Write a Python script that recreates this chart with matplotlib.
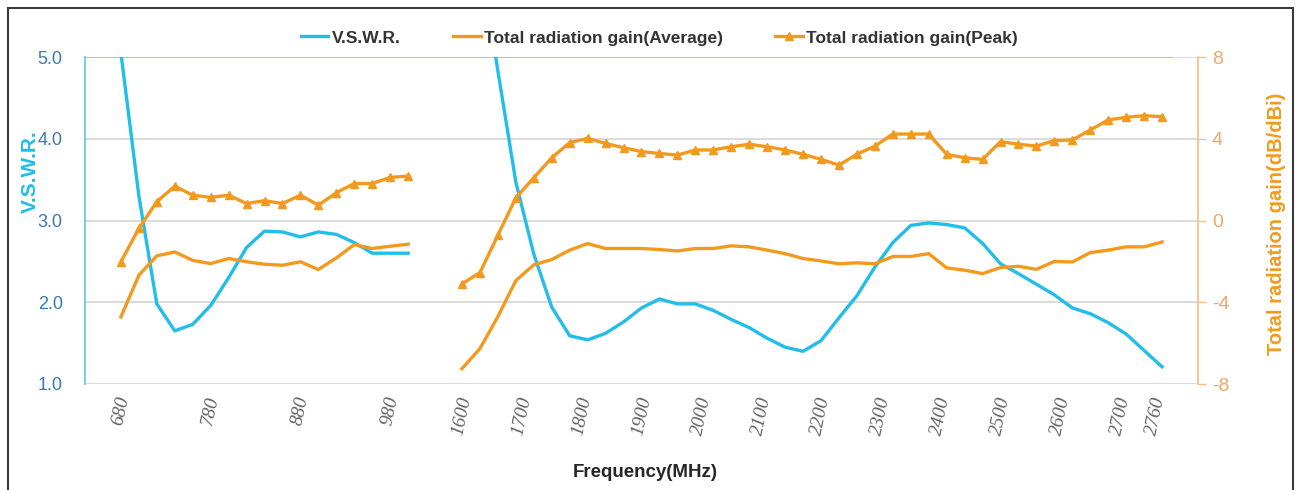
import numpy as np
import matplotlib.pyplot as plt
from matplotlib.patches import Rectangle
from matplotlib.lines import Line2D

plt.rcParams['axes.unicode_minus'] = False

# frequency categories (MHz): low band and high band
freq_lo = list(range(680, 1001, 20))
freq_hi = list(range(1600, 2771, 30))

vswr_lo = [5.05, 3.30, 1.98, 1.65, 1.73, 1.96, 2.30, 2.67, 2.87, 2.86, 2.80, 2.86, 2.83, 2.73, 2.60, 2.60, 2.60]
avg_lo = [-4.72, -2.68, -1.73, -1.54, -1.95, -2.11, -1.86, -2.02, -2.14, -2.19, -2.02, -2.40, -1.83, -1.18, -1.37, -1.26, -1.16]
peak_lo = [-2.02, -0.39, 0.92, 1.68, 1.24, 1.13, 1.24, 0.83, 0.97, 0.83, 1.24, 0.75, 1.36, 1.81, 1.81, 2.11, 2.17]

vswr_hi = [8.0, 6.2, 4.83, 3.47, 2.59, 1.94, 1.59, 1.54, 1.62, 1.76, 1.93, 2.04, 1.98, 1.98, 1.90, 1.79,
           1.69, 1.56, 1.45, 1.40, 1.53, 1.81, 2.08, 2.43, 2.73, 2.94, 2.97, 2.95, 2.91, 2.72, 2.47, 2.35,
           2.22, 2.09, 1.93, 1.86, 1.75, 1.61, 1.41, 1.21]
avg_hi = [-7.25, -6.27, -4.7, -2.94, -2.17, -1.91, -1.45, -1.13, -1.37, -1.37, -1.37, -1.42, -1.49, -1.37,
          -1.37, -1.24, -1.29, -1.45, -1.62, -1.86, -1.98, -2.12, -2.07, -2.12, -1.76, -1.76, -1.62, -2.32,
          -2.43, -2.6, -2.3, -2.24, -2.39, -2.0, -2.03, -1.57, -1.45, -1.29, -1.29, -1.05]
peak_hi = [-3.1, -2.55, -0.72, 1.11, 2.09, 3.07, 3.81, 4.02, 3.77, 3.56, 3.37, 3.28, 3.20, 3.45, 3.45, 3.61,
           3.73, 3.61, 3.45, 3.24, 2.99, 2.71, 3.24, 3.64, 4.23, 4.23, 4.23, 3.24, 3.07, 2.99, 3.86, 3.73,
           3.64, 3.91, 3.94, 4.43, 4.92, 5.05, 5.13, 5.08]

xtick_freqs = [680, 780, 880, 980, 1600, 1700, 1800, 1900, 2000, 2100, 2200, 2300, 2400, 2500, 2600, 2700, 2760]

cyan = '#22BDEA'
orange = '#F39A1E'


# category-like axis: both bands equally spaced per sample, with a gap between
def fwd(f):
    f = np.asarray(f, dtype=float)
    return np.where(f <= 1000, (f - 680) / 20,
                    np.where(f >= 1600, 19 + (f - 1600) / 30, 16 + (f - 1000) / 200))


def inv(p):
    p = np.asarray(p, dtype=float)
    return np.where(p <= 16, 680 + p * 20,
                    np.where(p >= 19, 1600 + (p - 19) * 30, 1000 + (p - 16) * 200))


fig = plt.figure(figsize=(12.98, 4.90), dpi=100)
ax = fig.add_axes([85 / 1298, 1 - 384 / 490, (1198 - 85) / 1298, (384 - 57) / 490])
ax.set_xscale('function', functions=(fwd, inv))
ax.set_xlim(640, 2830)
ax.set_ylim(1, 5)
ax.set_yticks([1, 2, 3, 4, 5])
ax.set_yticklabels(['%.1f' % v for v in [1, 2, 3, 4, 5]])
ax.grid(axis='y', color='#D4D4D4', lw=1.2)
ax.set_axisbelow(True)
for s in ['top', 'right', 'bottom']:
    ax.spines[s].set_visible(False)
ax.spines['left'].set_color('#6CCBE8')
ax.spines['left'].set_linewidth(1.3)
ax.axhline(5.0, xmin=0, xmax=0.977, color='#F5AE3C', lw=1.2, zorder=1)

ax.plot(freq_lo, vswr_lo, color=cyan, lw=2.4, zorder=3)
ax.plot(freq_hi, vswr_hi, color=cyan, lw=2.4, zorder=3)

ax2 = ax.twinx()
ax2.set_ylim(-8, 8)
ax2.set_yticks([-8, -4, 0, 4, 8])
for s in ['top', 'left', 'bottom']:
    ax2.spines[s].set_visible(False)
ax2.spines['right'].set_color('#F4BE86')
ax2.spines['right'].set_linewidth(1.2)
ax2.plot(freq_lo, avg_lo, color=orange, lw=2.4)
ax2.plot(freq_hi, avg_hi, color=orange, lw=2.4)
ax2.plot(freq_lo, peak_lo, color=orange, lw=2.4, marker='^', ms=6)
ax2.plot(freq_hi, peak_hi, color=orange, lw=2.4, marker='^', ms=6)

sans = 'Liberation Sans'

ax.set_xticks(xtick_freqs)
ax.set_xticklabels([str(f) for f in xtick_freqs], rotation=78, ha='center', va='top',
                   family='Liberation Serif', style='italic', fontsize=14, color='#636363')
ax.xaxis.set_minor_locator(plt.NullLocator())
ax.tick_params(axis='x', length=0, pad=8)
ax.tick_params(axis='y', length=0, pad=16, labelcolor='#3C78B0', labelsize=13)
for t in ax.get_yticklabels():
    t.set_family(sans)
ax2.tick_params(axis='y', length=6, width=1, color='#F4BE86', labelcolor='#F2A868', labelsize=14, pad=4)
for t in ax2.get_yticklabels():
    t.set_family(sans)

fig.text(30 / 1298, 1 - 172 / 490, 'V.S.W.R.', rotation=90, ha='center', va='center',
         color=cyan, fontsize=15, fontweight='bold', family=sans)
fig.text(1277 / 1298, 1 - 224 / 490, 'Total radiation gain(dB/dBi)', rotation=90, ha='center', va='center',
         color=orange, fontsize=14.5, fontweight='bold', family=sans)
fig.text(645 / 1298, 1 - 472 / 490, 'Frequency(MHz)', ha='center', va='center',
         color='#262626', fontsize=13.5, fontweight='bold', family=sans)

handles = [Line2D([], [], color=cyan, lw=2.4),
           Line2D([], [], color=orange, lw=2.4),
           Line2D([], [], color=orange, lw=2.4, marker='^', ms=6)]
labels = ['V.S.W.R.', 'Total radiation gain(Average)', 'Total radiation gain(Peak)']
fig.legend(handles, labels, loc='center', bbox_to_anchor=(0.508, 1 - 38 / 490), ncol=3, frameon=False,
           prop={'family': sans, 'weight': 'bold', 'size': 12.5}, labelcolor='#333333',
           handlelength=1.6, handletextpad=0.2, columnspacing=3.0)

# outer frame of the original chart
fig.patches.append(Rectangle((8 / 1298, -0.1), (1293 - 8) / 1298, 1.1 - 8 / 490, transform=fig.transFigure,
                             fill=False, edgecolor='#3A3A3A', lw=1.5))

fig.savefig('out.png', dpi=100)
